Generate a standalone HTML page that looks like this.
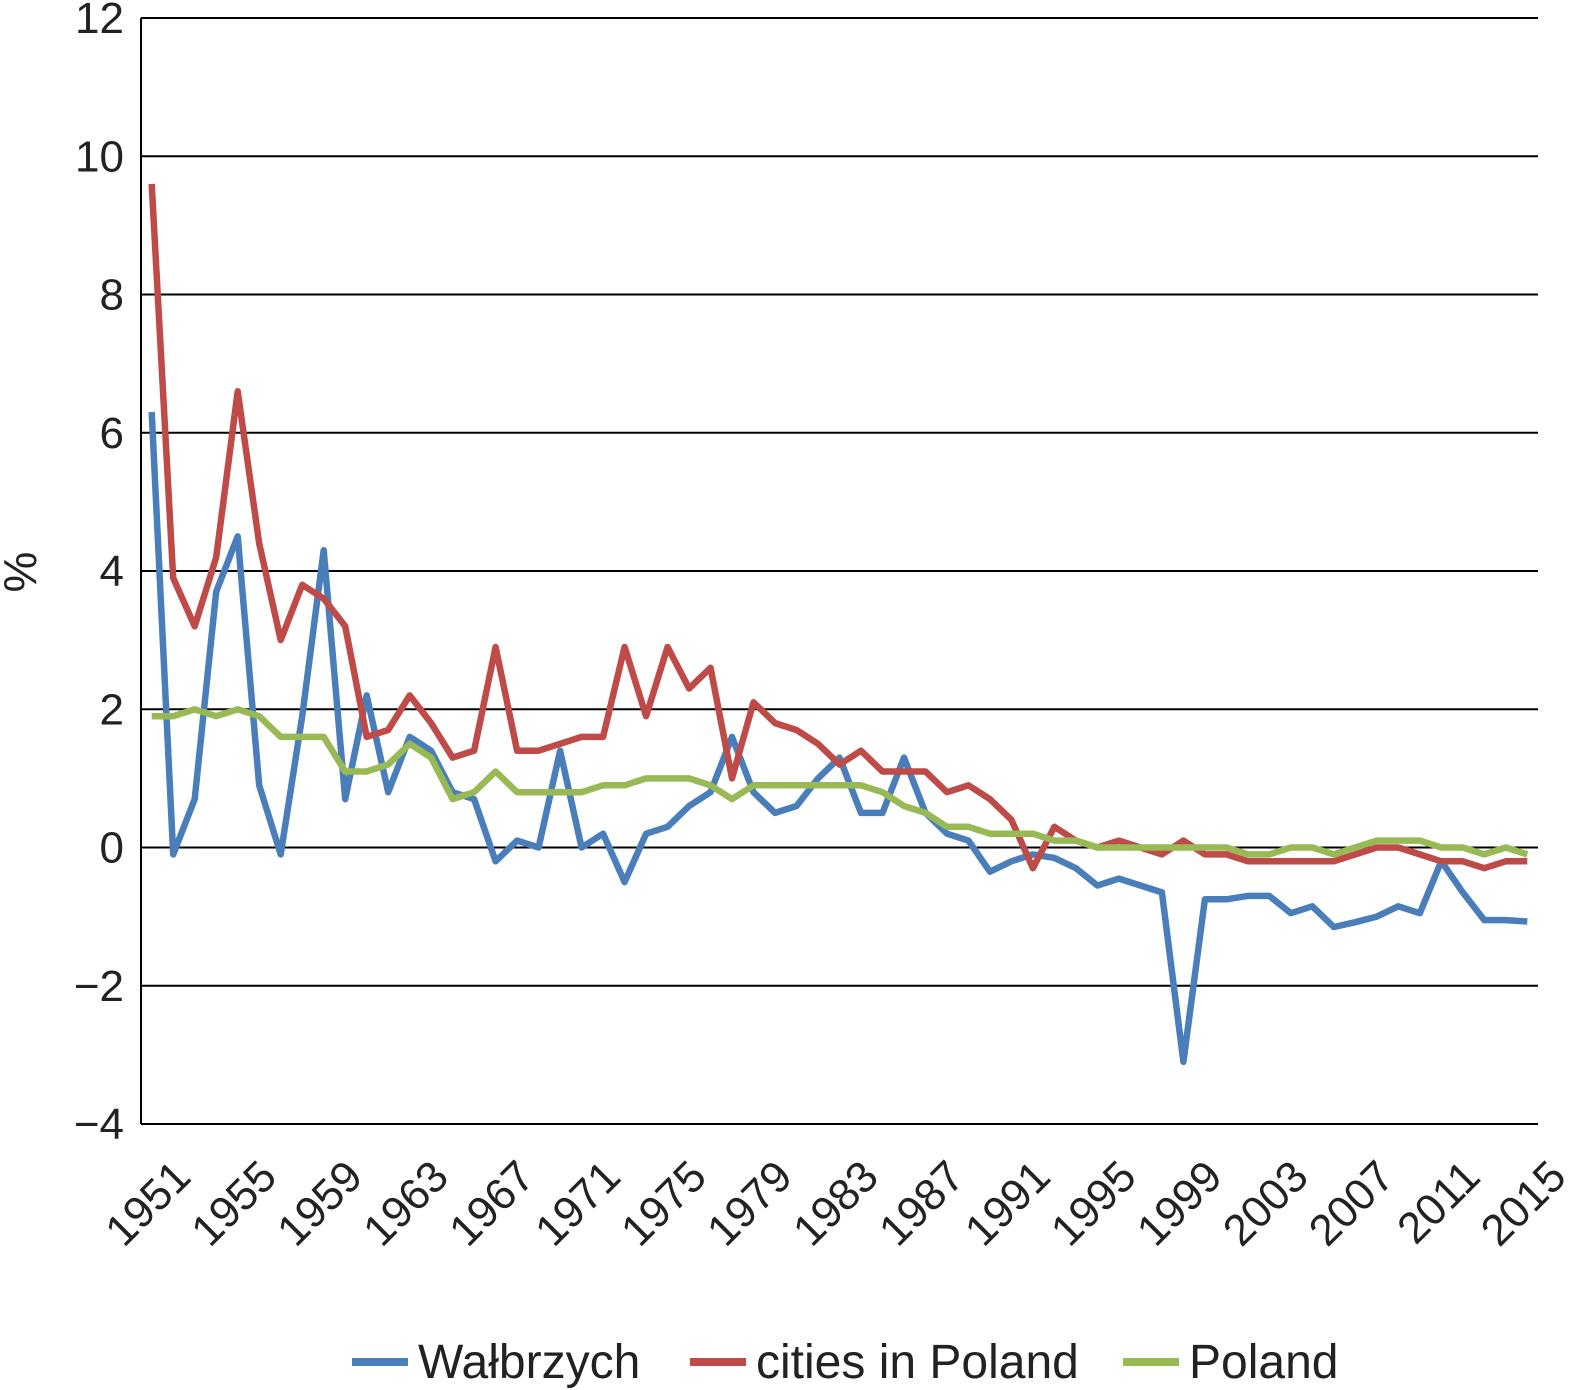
<!DOCTYPE html>
<html><head><meta charset="utf-8"><style>
html,body{margin:0;padding:0;background:#fff;}
svg{display:block;font-family:"Liberation Sans",Arial,sans-serif;}
</style></head><body>
<svg id="chart" width="1570" height="1390"></svg>
<script>
const years = [];
for (let y = 1951; y <= 2015; y++) years.push(y);
const walbrzych = [6.3,-0.1,0.7,3.7,4.5,0.9,-0.1,1.9,4.3,0.7,2.2,0.8,1.6,1.4,0.8,0.7,-0.2,0.1,0.0,1.4,0.0,0.2,-0.5,0.2,0.3,0.6,0.8,1.6,0.8,0.5,0.6,1.0,1.3,0.5,0.5,1.3,0.5,0.2,0.1,-0.35,-0.2,-0.1,-0.15,-0.3,-0.55,-0.45,-0.55,-0.65,-3.1,-0.75,-0.75,-0.7,-0.7,-0.95,-0.85,-1.15,-1.08,-1.0,-0.85,-0.95,-0.2,-0.65,-1.05,-1.05,-1.07];
const cities = [9.6,3.9,3.2,4.2,6.6,4.4,3.0,3.8,3.6,3.2,1.6,1.7,2.2,1.8,1.3,1.4,2.9,1.4,1.4,1.5,1.6,1.6,2.9,1.9,2.9,2.3,2.6,1.0,2.1,1.8,1.7,1.5,1.2,1.4,1.1,1.1,1.1,0.8,0.9,0.7,0.4,-0.3,0.3,0.1,0.0,0.1,0.0,-0.1,0.1,-0.1,-0.1,-0.2,-0.2,-0.2,-0.2,-0.2,-0.1,0.0,0.0,-0.1,-0.2,-0.2,-0.3,-0.2,-0.2];
const poland = [1.9,1.9,2.0,1.9,2.0,1.9,1.6,1.6,1.6,1.1,1.1,1.2,1.5,1.3,0.7,0.8,1.1,0.8,0.8,0.8,0.8,0.9,0.9,1.0,1.0,1.0,0.9,0.7,0.9,0.9,0.9,0.9,0.9,0.9,0.8,0.6,0.5,0.3,0.3,0.2,0.2,0.2,0.1,0.1,0.0,0.0,0.0,0.0,0.0,0.0,0.0,-0.1,-0.1,0.0,0.0,-0.1,0.0,0.1,0.1,0.1,0.0,0.0,-0.1,0.0,-0.1];
const yTicks = [-4,-2,0,2,4,6,8,10,12];
const seriesNames = ["Wałbrzych","cities in Poland","Poland"];

const NS = "http://www.w3.org/2000/svg";
const svg = document.getElementById('chart');
const L = 141, R = 1538, T = 18, B = 1124, yMin = -4, yMax = 12;
const band = (R - L) / years.length;
const xs = i => L + band * (i + 0.5);
const ys = v => B - (v - yMin) / (yMax - yMin) * (B - T);
function mk(tag, attrs, parent) {
  const e = document.createElementNS(NS, tag);
  for (const k in attrs) e.setAttribute(k, attrs[k]);
  (parent || svg).appendChild(e);
  return e;
}
yTicks.forEach(v => {
  const g = mk('line', {x1: L, x2: R, y1: ys(v), y2: ys(v), stroke: '#000', 'stroke-width': 2});
  
  
  const t = mk('text', {x: 124, y: ys(v) + 15, 'text-anchor': 'end', 'font-size': 44, fill: '#222'});
  t.textContent = v < 0 ? '\u2212' + Math.abs(v) : String(v);
  
  
});
const ya = mk('line', {x1: L, x2: L, y1: T, y2: B, stroke: '#000', 'stroke-width': 2});


const yt = mk('text', {x: 0, y: 0, transform: 'translate(36,572) rotate(-90)', 'text-anchor': 'middle', 'font-size': 46, fill: '#222'});
yt.textContent = '%';


years.forEach((yr, i) => {
  if ((yr - 1951) % 4 !== 0) return;
  const x = xs(i) + 20, y = B + 34;
  const t = mk('text', {x: x, y: y, transform: `rotate(-45 ${x} ${y})`, 'text-anchor': 'end', 'font-size': 44, fill: '#222', dy: 30});
  t.textContent = String(yr);
  
  
});
const colors = ['#4a7ebb', '#be4b48', '#98b954'];
[walbrzych, cities, poland].forEach((data, si) => {
  const d = data.map((v, i) => (i ? 'L' : 'M') + xs(i).toFixed(1) + ',' + ys(v).toFixed(1)).join(' ');
  const p = mk('path', {d: d, fill: 'none', stroke: colors[si], 'stroke-width': 6.5, 'stroke-linejoin': 'round'});
  
  
});
const legX = [352, 690, 1123];
seriesNames.forEach((n, si) => {
  const g = mk('g', {});
  
  
  mk('line', {x1: legX[si], x2: legX[si] + 56, y1: 1362, y2: 1362, stroke: colors[si], 'stroke-width': 8}, g);
  const t = mk('text', {x: legX[si] + 66, y: 1378, 'font-size': 48, fill: '#222'}, g);
  t.textContent = n;
});
</script>
</body></html>
